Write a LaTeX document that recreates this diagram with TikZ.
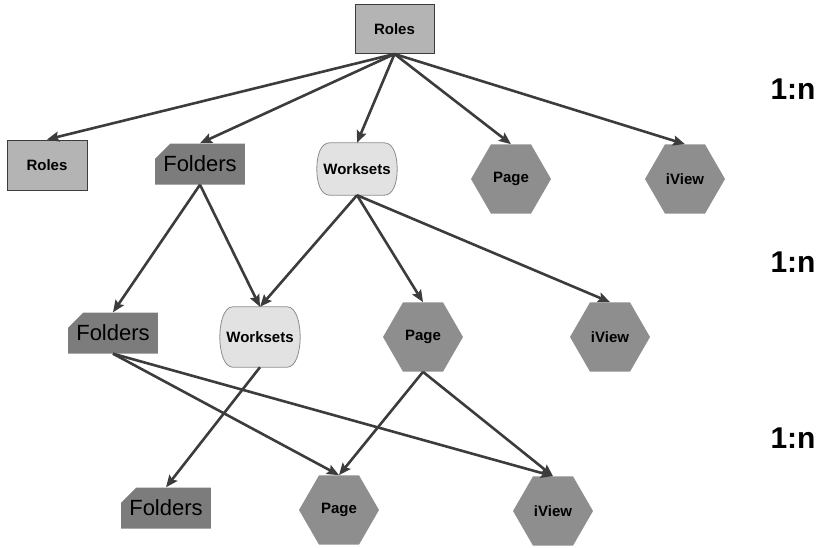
\documentclass[tikz,border=0pt]{standalone}
\usepackage{fontspec}
\setmainfont{Liberation Sans}
\usetikzlibrary{shapes.geometric,shapes.misc,arrows.meta,calc,backgrounds}
\definecolor{edgec}{HTML}{3C3C3C}
\definecolor{rolesf}{HTML}{B4B4B4}
\definecolor{foldf}{HTML}{7C7C7C}
\definecolor{workf}{HTML}{E2E2E2}
\definecolor{workd}{HTML}{8C8C8C}
\definecolor{hexf}{HTML}{8E8E8E}
\tikzset{
  rolesbox/.style={draw=edgec, line width=1pt, fill=rolesf, minimum width=79pt, minimum height=49pt, inner sep=0pt, font=\fontsize{15}{18}\selectfont\bfseries},
  foldbox/.style={chamfered rectangle, chamfered rectangle corners=north west, chamfered rectangle xsep=12pt, chamfered rectangle ysep=7pt, fill=foldf, minimum width=77pt, minimum height=41pt, inner sep=0pt, font=\fontsize{22}{26}\selectfont},
  workbox/.style={rectangle, minimum width=70pt, minimum height=#1, inner sep=0pt, font=\fontsize{15}{18}\selectfont\bfseries},
  workline/.style={draw=workd, line width=0.8pt, fill=workf},
  hexbox/.style={regular polygon, regular polygon sides=6, fill=hexf, minimum size=80pt, inner sep=0pt, font=\fontsize{15}{18}\selectfont\bfseries},
  card/.style={font=\fontsize{30}{34}\selectfont\bfseries},
  link/.style={draw=edgec, line width=2.6pt, -{Stealth[length=12pt,width=10pt,inset=2pt]}}
}
\newcommand\wsoutline[1]{%
  \begin{pgfonlayer}{background}
  \path[workline]
    ($(#1.north west)+(8,0)$) -- ($(#1.north east)+(-8,0)$)
    .. controls ($(#1.north east)+(1,0)$) and ($(#1.east)+(5,-14)$) .. ($(#1.east)+(5,0)$)
    .. controls ($(#1.east)+(5,14)$) and ($(#1.south east)+(1,0)$) .. ($(#1.south east)+(-8,0)$)
    -- ($(#1.south west)+(8,0)$)
    .. controls ($(#1.south west)+(-1,0)$) and ($(#1.west)+(-5,14)$) .. ($(#1.west)+(-5,0)$)
    .. controls ($(#1.west)+(-5,-14)$) and ($(#1.north west)+(-1,0)$) .. ($(#1.north west)+(8,0)$)
    -- cycle;
  \end{pgfonlayer}}
\begin{document}
\begin{tikzpicture}[x=1pt,y=-1pt]
\useasboundingbox (0,0) rectangle (824,547);
% row 0
\node[rolesbox] (r0) at (394.5,29) {Roles};
% row 1
\node[rolesbox, minimum width=80pt, minimum height=50pt] (r1) at (47,165) {Roles};
\node[foldbox] (f1) at (200,164) {Folders};
\node[workbox=52pt] (w1) at (357,169) {Worksets};
\wsoutline{w1}
\node[hexbox] (p1) at (511,179) {Page};
\node[hexbox] (v1) at (685,179) {iView};
% row 2
\node[foldbox, minimum width=75pt] (f2) at (113,333) {Folders};
\node[workbox=60pt] (w2) at (260,337) {Worksets};
\wsoutline{w2}
\node[hexbox] (p2) at (423,337) {Page};
\node[hexbox] (v2) at (610,337) {iView};
% row 3
\node[foldbox, minimum width=81pt] (f3) at (166,508) {Folders};
\node[hexbox] (p3) at (339,510) {Page};
\node[hexbox] (v3) at (553,511) {iView};
% cardinalities
\node[card] (c1) at (793,89) {1:n};
\node[card] (c2) at (793,262) {1:n};
\node[card] (c3) at (793,438) {1:n};
% edges
\draw[link] (r0.south) -- (r1.north);
\draw[link] (r0.south) -- (f1.north);
\draw[link] (r0.south) -- (w1.north);
\draw[link] (r0.south) -- (p1.north);
\draw[link] (r0.south) -- (v1.north);
\draw[link] (f1.south) -- (f2.north);
\draw[link] (f1.south) -- (w2.north);
\draw[link] (w1.south) -- (w2.north);
\draw[link] (w1.south) -- (p2.north);
\draw[link] (w1.south) -- (v2.north);
\draw[link] (f2.south) -- (p3.north);
\draw[link] (f2.south) -- (v3.north);
\draw[link] (w2.south) -- (f3.north);
\draw[link] (p2.south) -- (p3.north);
\draw[link] (p2.south) -- (v3.north);
\end{tikzpicture}
\end{document}
